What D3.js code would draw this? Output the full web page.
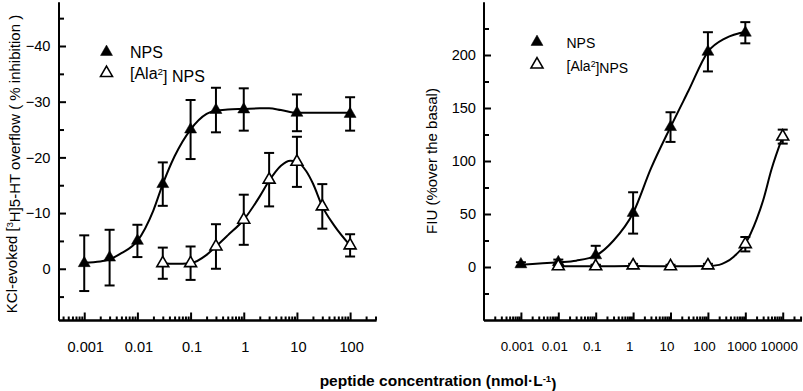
<!DOCTYPE html>
<html>
<head>
<meta charset="utf-8">
<script src="https://cdn.jsdelivr.net/npm/d3@7"></script>
<style>
  body { margin: 0; background: #fff; }
  svg { display: block; }
  text { font-family: Arial, "Liberation Sans", sans-serif; fill: #000; }
</style>
</head>
<body>
<svg id="chart" width="803" height="391"></svg>
<script>
// left panel: KCl-evoked 5-HT overflow
const leftNpsX = [0.001, 0.003, 0.01, 0.03, 0.1, 0.3, 1, 10, 100]
const leftNpsY = [-1, -2, -5, -15.2, -25, -28.5, -28.6, -28, -27.8]
const leftNpsErr = [5, 5, 2.9, 3.9, 5.3, 4, 3.8, 3.3, 3]
const leftAlaX = [0.03, 0.1, 0.3, 1, 3, 10, 30, 100]
const leftAlaY = [-1, -1, -4, -8.8, -16, -19.2, -11.2, -4.2]
const leftAlaErr = [2.8, 3, 4, 4.5, 4.8, 4.5, 4, 2]
// fitted curves
const leftNpsFitX = [0.001, 0.002, 0.003, 0.005, 0.01, 0.02, 0.03, 0.05, 0.1, 0.2, 0.3, 0.5, 1, 2, 3, 5, 10, 30, 100]
const leftNpsFitY = [-1.1, -1.3, -1.7, -2.8, -5, -10.5, -15.2, -20.2, -25, -27.8, -28.4, -28.6, -28.7, -28.8, -28.8, -28.5, -28, -28, -28]
const leftAlaFitX = [0.03, 0.05, 0.1, 0.2, 0.3, 0.5, 1, 2, 3, 5, 7.5, 10, 15, 20, 30, 50, 100]
const leftAlaFitY = [-1, -0.9, -1, -2.5, -4, -6, -8.8, -13, -15.8, -18.5, -19.4, -19.2, -17.5, -15.3, -11.2, -7.8, -4.2]
const leftYMajor = [-40, -30, -20, -10, 0]
const leftYMinor = [-45, -35, -25, -15, -5, 5]
const leftXTicks = [0.001, 0.01, 0.1, 1, 10, 100]
const leftXLabels = ["0.001", "0.01", "0.1", "1", "10", "100"]

// right panel: FIU
const rightNpsX = [0.001, 0.01, 0.1, 1, 10, 100, 1000]
const rightNpsY = [2.5, 4.5, 11, 51, 132, 203, 221]
const rightNpsErr = [2, 2.5, 9, 19.5, 14, 18.5, 10]
const rightAlaX = [0.01, 0.1, 1, 10, 100, 1000, 10000]
const rightAlaY = [0.6, 0.6, 1.5, 0.6, 1.5, 21.5, 123]
const rightAlaErr = [1.5, 1.5, 1.5, 1.5, 1.5, 6.8, 6.6]
const rightNpsFitX = [0.001, 0.01, 0.03, 0.1, 0.3, 1, 3, 10, 30, 100, 300, 1000]
const rightNpsFitY = [2.2, 4.4, 6, 10.7, 25, 51, 93, 132, 166, 203, 216, 222]
const rightAlaFitX = [0.01, 0.1, 1, 10, 100, 200, 300, 500, 1000, 2000, 3000, 5000, 10000]
const rightAlaFitY = [0.6, 0.6, 0.9, 0.6, 1, 2, 4.5, 10, 22, 45, 63, 92, 123]
const rightYMajor = [0, 50, 100, 150, 200]
const rightYMinor = [-25, 25, 75, 125, 175, 225]
const rightXTicks = [0.001, 0.01, 0.1, 1, 10, 100, 1000, 10000]
const rightXLabels = ["0.001", "0.01", "0.1", "1", "10", "100", "1000", "10000"]

const svg = d3.select("#chart")
const tri = d3.symbol().type(d3.symbolTriangle).size(62)

function zip(xs, ys, es) {
  return xs.map((x, i) => ({ x, y: ys[i], e: es ? es[i] : 0 }))
}

function isDecade(t) {
  return Math.abs(Math.log10(t) - Math.round(Math.log10(t))) < 1e-9
}

function addParts(textSel, parts) {
  parts.forEach(part => {
    textSel.append("tspan").text(part.t)
      .attr("dy", part.sup ? "-0.45em" : (part.after ? "0.45em" : null))
      .style("font-size", part.sup ? "0.62em" : null)
  })
}

function drawPanel(p) {
  const g = svg.append("g")
  const x = d3.scaleLog().domain(p.xDomain).range(p.xRange)
  const y = d3.scaleLinear().domain(p.yDomain).range([320, 2])

  // x axis: labelled decades + minor 2..9 ticks
  const minor = x.ticks().filter(t => !isDecade(t))

  g.append("g").attr("transform", "translate(0,320)")
    .call(d3.axisBottom(x).tickValues(minor).tickSize(-3.5).tickSizeOuter(0).tickFormat(""))
  const xMajor = g.append("g").attr("transform", "translate(0,320)")
    .call(d3.axisBottom(x).tickValues(p.xTicks).tickSize(-7.5).tickSizeOuter(0)
      .tickFormat((d, i) => p.xLabels[i]).tickPadding(p.xPad))
  xMajor.selectAll("text")
    .attr("dx", p.xShift)
    .style("font-size", p.xFont + "px").style("font-family", null)

  g.append("g").attr("transform", `translate(${p.xRange[0]},0)`)
    .call(d3.axisLeft(y).tickValues(p.yMinor).tickSize(-5.5).tickSizeOuter(0).tickFormat(""))
  const yMajor = g.append("g").attr("transform", `translate(${p.xRange[0]},0)`)
    .call(d3.axisLeft(y).tickValues(p.yMajor).tickSize(-7.5).tickSizeOuter(0).tickPadding(p.yPad))
  yMajor.selectAll("text").style("font-size", "14.6px").style("font-family", null)

  g.selectAll(".domain, .tick line").attr("stroke", "#000").attr("stroke-width", 2)

  const line = d3.line().x(d => x(d.x)).y(d => y(d.y)).curve(d3.curveMonotoneX)

  p.series.forEach(s => {
    g.append("path")
      .datum(zip(s.fitX, s.fitY))
      .attr("d", line)
      .attr("fill", "none")
      .attr("stroke", "#000")
      .attr("stroke-width", 2)
  })

  p.series.forEach(s => {
    const pts = zip(s.x, s.y, s.err)
    const eb = g.append("g").attr("stroke", "#000").attr("stroke-width", 2)
    pts.forEach(d => {
      const cx = x(d.x)
      eb.append("line").attr("x1", cx).attr("x2", cx).attr("y1", y(d.y - d.e)).attr("y2", y(d.y + d.e))
      eb.append("line").attr("x1", cx - 5).attr("x2", cx + 5).attr("y1", y(d.y - d.e)).attr("y2", y(d.y - d.e))
      eb.append("line").attr("x1", cx - 5).attr("x2", cx + 5).attr("y1", y(d.y + d.e)).attr("y2", y(d.y + d.e))
    })
    g.append("g").selectAll("path")
      .data(pts)
      .join("path")
      .attr("d", tri)
      .attr("transform", d => `translate(${x(d.x)},${y(d.y)})`)
      .attr("fill", s.filled ? "#000" : "#fff")
      .attr("stroke", "#000")
      .attr("stroke-width", s.filled ? 0.5 : 1.6)
  })

  // legend
  p.legend.forEach((l, i) => {
    g.append("path")
      .attr("d", tri)
      .attr("transform", `translate(${p.legendX},${p.legendY + i * p.legendGap})`)
      .attr("fill", l.filled ? "#000" : "#fff")
      .attr("stroke", "#000")
      .attr("stroke-width", l.filled ? 0.5 : 1.6)
    const t = g.append("text")
      .attr("x", p.legendX + p.legendText)
      .attr("y", p.legendY + i * p.legendGap + 6)
      .style("font-size", p.legendFont + "px")
    addParts(t, l.parts)
  })

  // y title
  const yt = g.append("text")
    .attr("transform", `translate(${p.yTitleX},${p.yTitleY}) rotate(-90)`)
    .attr("text-anchor", "middle")
    .style("font-size", "15px")
  addParts(yt, p.yTitle)
}

drawPanel({
  xDomain: [Math.pow(10, -3.484), Math.pow(10, 2.487)],
  xRange: [58.5, 376],
  yDomain: [9.2, -47.9],
  yMajor: leftYMajor, yMinor: leftYMinor,
  xTicks: leftXTicks, xLabels: leftXLabels, xFont: 14.6, xPad: 22, xShift: 1, yPad: 8,
  series: [
    { x: leftNpsX, y: leftNpsY, err: leftNpsErr, fitX: leftNpsFitX, fitY: leftNpsFitY, filled: true },
    { x: leftAlaX, y: leftAlaY, err: leftAlaErr, fitX: leftAlaFitX, fitY: leftAlaFitY, filled: false }
  ],
  legendX: 106.5, legendY: 52, legendGap: 21, legendText: 23.5, legendFont: 16,
  legend: [
    { filled: true, parts: [{ t: "NPS" }] },
    { filled: false, parts: [{ t: "[Ala" }, { t: "2", sup: true }, { t: "] NPS", after: true }] }
  ],
  yTitleX: 17, yTitleY: 164,
  yTitle: [{ t: "KCl-evoked [" }, { t: "3", sup: true }, { t: "H]5-HT overflow  ( % inhibition )", after: true }]
})

drawPanel({
  xDomain: [1e-4, Math.pow(10, 4.502)],
  xRange: [483.5, 801.5],
  yDomain: [-50, 250],
  yMajor: rightYMajor, yMinor: rightYMinor,
  xTicks: rightXTicks, xLabels: rightXLabels, xFont: 13.4, xPad: 21, xShift: -4, yPad: 7.5,
  series: [
    { x: rightNpsX, y: rightNpsY, err: rightNpsErr, fitX: rightNpsFitX, fitY: rightNpsFitY, filled: true },
    { x: rightAlaX, y: rightAlaY, err: rightAlaErr, fitX: rightAlaFitX, fitY: rightAlaFitY, filled: false }
  ],
  legendX: 537, legendY: 42, legendGap: 22.5, legendText: 29.5, legendFont: 14,
  legend: [
    { filled: true, parts: [{ t: "NPS" }] },
    { filled: false, parts: [{ t: "[Ala" }, { t: "2", sup: true }, { t: "]NPS", after: true }] }
  ],
  yTitleX: 437, yTitleY: 161,
  yTitle: [{ t: "FIU  (%over the basal)" }]
})

// shared x title
const xt = svg.append("text")
  .attr("x", 438)
  .attr("y", 386)
  .attr("text-anchor", "middle")
  .style("font-size", "15.5px")
  .style("font-weight", "bold")
xt.append("tspan").text("peptide concentration (nmol·L")
xt.append("tspan").text("-1").attr("dy", "-0.45em").style("font-size", "0.62em")
xt.append("tspan").text(")").attr("dy", "0.45em")
</script>
</body>
</html>
